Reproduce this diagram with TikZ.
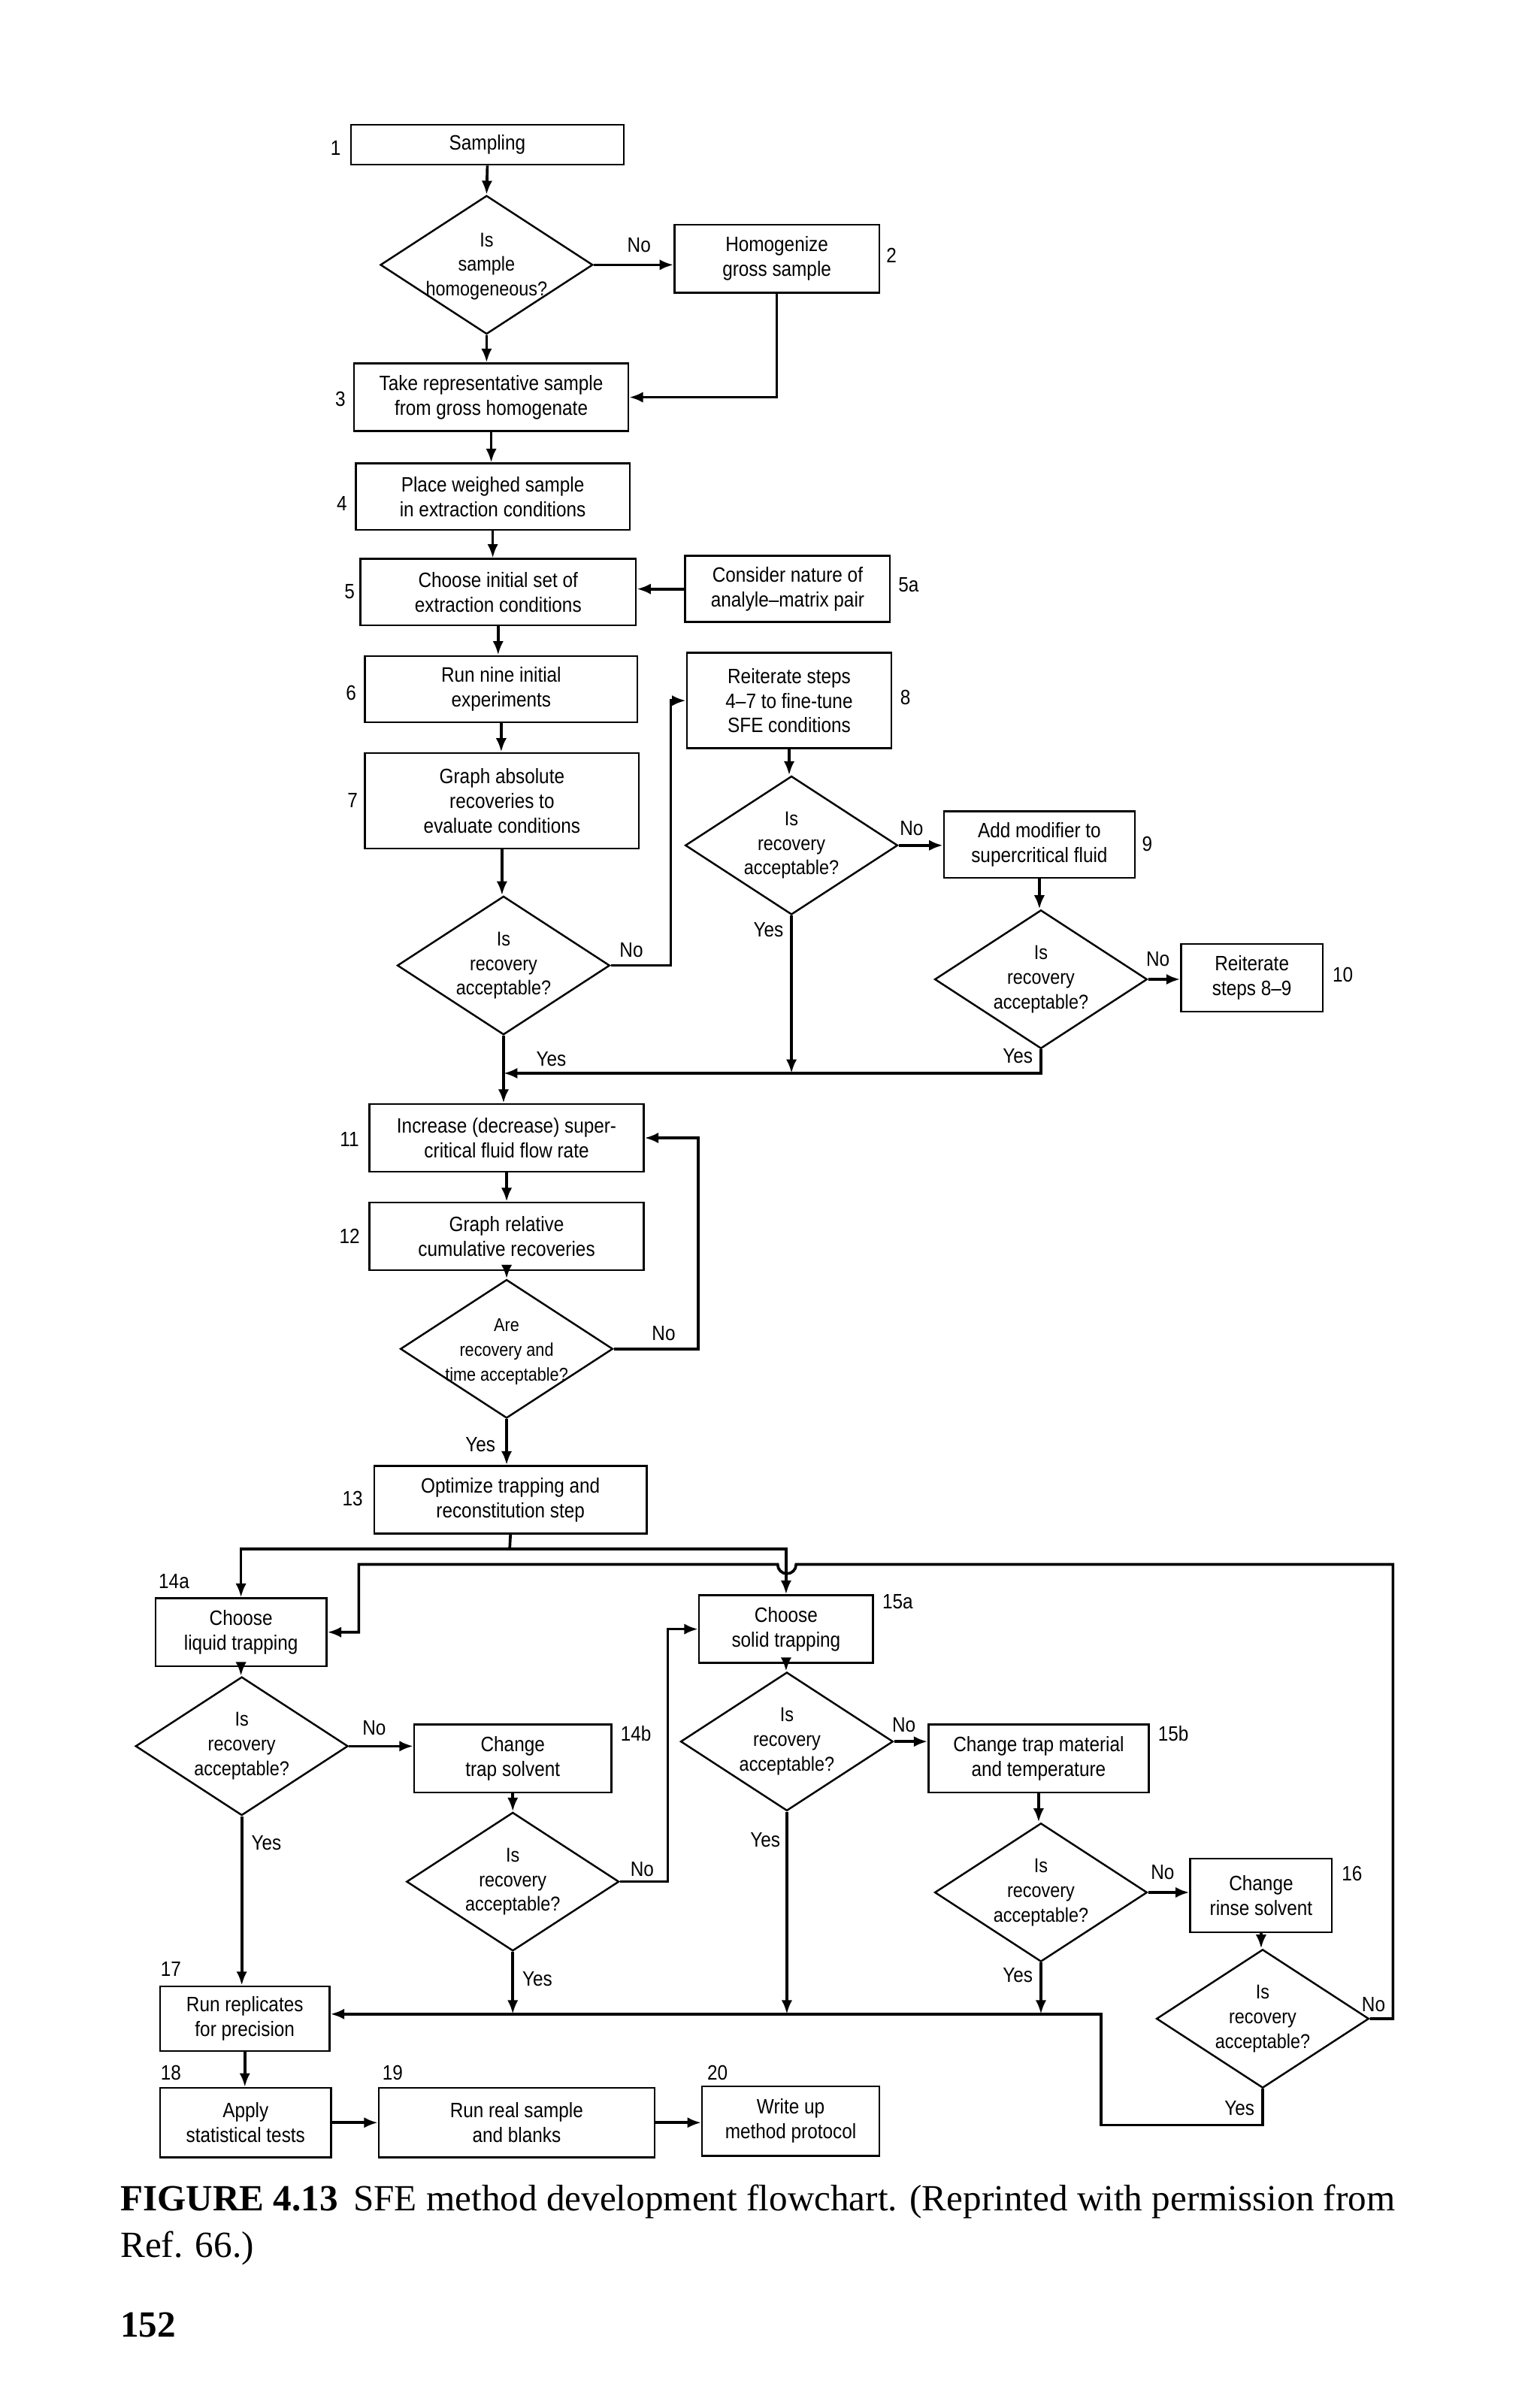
\documentclass[tikz,border=0pt]{standalone}
\usepackage{fontspec}
\setmainfont{Liberation Serif}
\newfontfamily\lsans[FakeStretch=0.88]{Liberation Sans}
\usetikzlibrary{shapes.geometric,arrows.meta}
\begin{document}
\begin{tikzpicture}[x=1pt,y=-1pt,
  every node/.style={font=\lsans\fontsize{13.5}{16}\selectfont},
  box/.style={draw,line width=1.2pt,align=center,inner sep=1pt},
  dia/.style={draw,diamond,line width=1.2pt,inner sep=0pt,minimum width=138pt,minimum height=90pt},
  dt/.style={align=center,font=\lsans\fontsize{13}{16}\selectfont},
  ar/.style={line width=1.8pt,-{Latex[length=9pt,width=7pt]}},
  ln/.style={line width=1.8pt},
  num/.style={inner sep=1pt},
  yn/.style={inner sep=1pt}]
\useasboundingbox (0,0) rectangle (1000,1558);
% boxes
\node[box,minimum width=177,minimum height=26] (b1) at (316.5,94) {Sampling};
\node[box,minimum width=133,minimum height=44] (b2) at (504.5,168) {Homogenize\\gross sample};
\node[box,minimum width=178,minimum height=44] (b3) at (319,258) {Take representative sample\\from gross homogenate};
\node[box,minimum width=178,minimum height=43] (b4) at (320,322.5) {Place weighed sample\\in extraction conditions};
\node[box,minimum width=179,minimum height=43] (b5) at (323.5,384.5) {Choose initial set of\\extraction conditions};
\node[box,minimum width=133,minimum height=43] (b5a) at (511.5,382.5) {Consider nature of\\analyle–matrix pair};
\node[box,minimum width=177,minimum height=43] (b6) at (325.5,447.5) {Run nine initial\\experiments};
\node[box,minimum width=178,minimum height=62] (b7) at (326,520) {Graph absolute\\recoveries to\\evaluate conditions};
\node[box,minimum width=133,minimum height=62] (b8) at (512.5,455) {Reiterate steps\\4–7 to fine-tune\\SFE conditions};
\node[box,minimum width=124,minimum height=43] (b9) at (675,548.5) {Add modifier to\\supercritical fluid};
\node[box,minimum width=92,minimum height=44] (b10) at (813,635) {Reiterate\\steps 8–9};
\node[box,minimum width=178,minimum height=44] (b11) at (329,739) {Increase (decrease) super-\\critical fluid flow rate};
\node[box,minimum width=178,minimum height=44] (b12) at (329,803) {Graph relative\\cumulative recoveries};
\node[box,minimum width=177,minimum height=44] (b13) at (331.5,974) {Optimize trapping and\\reconstitution step};
\node[box,minimum width=111,minimum height=44] (b14a) at (156.5,1060) {Choose\\liquid trapping};
\node[box,minimum width=128,minimum height=44] (b14b) at (333,1142) {Change\\trap solvent};
\node[box,minimum width=113,minimum height=44] (b15a) at (510.5,1058) {Choose\\solid trapping};
\node[box,minimum width=143,minimum height=44] (b15b) at (674.5,1142) {Change trap material\\and temperature};
\node[box,minimum width=92,minimum height=48] (b16) at (819,1231) {Change\\rinse solvent};
\node[box,minimum width=110,minimum height=42] (b17) at (159,1311) {Run replicates\\for precision};
\node[box,minimum width=111,minimum height=45] (b18) at (159.5,1378.5) {Apply\\statistical tests};
\node[box,minimum width=179,minimum height=45] (b19) at (335.5,1378.5) {Run real sample\\and blanks};
\node[box,minimum width=115,minimum height=45] (b20) at (513.5,1377.5) {Write up\\method protocol};
% diamonds
\node[dia,label={[dt,name=t1,yshift=-1pt]center:Is\\sample\\homogeneous?}] (d1) at (316,172) {};
\node[dia,label={[dt,name=t7]center:Is\\recovery\\acceptable?}] (d7) at (327,627) {};
\node[dia,label={[dt,name=t8]center:Is\\recovery\\acceptable?}] (d8) at (514,549) {};
\node[dia,label={[dt,name=t9]center:Is\\recovery\\acceptable?}] (d9) at (676,636) {};
\node[dia,label={[dt,name=t12,yshift=-2pt,font=\lsans\fontsize{12}{16}\selectfont]center:Are\\recovery and\\time acceptable?}] (d12) at (329,876) {};
\node[dia,label={[dt,name=t14]center:Is\\recovery\\acceptable?}] (d14) at (157,1134) {};
\node[dia,label={[dt,name=t14b]center:Is\\recovery\\acceptable?}] (d14b) at (333,1222) {};
\node[dia,label={[dt,name=t15]center:Is\\recovery\\acceptable?}] (d15) at (511,1131) {};
\node[dia,label={[dt,name=t15b]center:Is\\recovery\\acceptable?}] (d15b) at (676,1229) {};
\node[dia,label={[dt,name=t16]center:Is\\recovery\\acceptable?}] (d16) at (820,1311) {};
% numbers
\node[num] (n1) at (218,96) {1};
\node[num] (n2) at (579,166) {2};
\node[num] (n3) at (221,259) {3};
\node[num] (n4) at (222,327) {4};
\node[num] (n5) at (227,384) {5};
\node[num] (n5a) at (590,380) {5a};
\node[num] (n6) at (228,450) {6};
\node[num] (n7) at (229,520) {7};
\node[num] (n8) at (588,453) {8};
\node[num] (n9) at (745,548) {9};
\node[num] (n10) at (872,633) {10};
\node[num] (n11) at (227,740) {11};
\node[num] (n12) at (227,803) {12};
\node[num] (n13) at (229,973) {13};
\node[num] (n14a) at (113,1027) {14a};
\node[num] (n14b) at (413,1126) {14b};
\node[num] (n15a) at (583,1040) {15a};
\node[num] (n15b) at (762,1126) {15b};
\node[num] (n16) at (878,1217) {16};
\node[num] (n17) at (111,1279) {17};
\node[num] (n18) at (111,1346) {18};
\node[num] (n19) at (255,1346) {19};
\node[num] (n20) at (466,1346) {20};
% yes/no
\node[yn] (y1) at (415,159) {No};
\node[yn] (y2) at (410,617) {No};
\node[yn] (y3) at (592,538) {No};
\node[yn] (y4) at (752,623) {No};
\node[yn] (y5) at (499,604) {Yes};
\node[yn] (y6) at (661,686) {Yes};
\node[yn] (y7) at (358,688) {Yes};
\node[yn] (y8) at (431,866) {No};
\node[yn] (y9) at (312,938) {Yes};
\node[yn] (y10) at (243,1122) {No};
\node[yn] (y11) at (417,1214) {No};
\node[yn] (y12) at (587,1120) {No};
\node[yn] (y13) at (755,1216) {No};
\node[yn] (y14) at (892,1302) {No};
\node[yn] (y15) at (805,1369) {Yes};
\node[yn] (y16) at (173,1197) {Yes};
\node[yn] (y17) at (349,1285) {Yes};
\node[yn] (y18) at (497,1195) {Yes};
\node[yn] (y19) at (661,1283) {Yes};
% coordinates
\coordinate (m) at (327,697);
\coordinate (s) at (331,1006);
\coordinate (j) at (715,1308);
% connectors
\draw[ar] (b1.south) -- (d1.north);
\draw[ar] (d1.east) -- (d1.east -| b2.west);
\draw[ar] (d1.south) -- (d1.south |- b3.north);
\draw[ar] (b2.south) |- (b3.east);
\draw[ar] (b3.south) -- (b3.south |- b4.north);
\draw[ar] (b4.south) -- (b4.south |- b5.north);
\draw[ar] (b5a.west) -- (b5a.west -| b5.east);
\draw[ar] (b5.south) -- (b5.south |- b6.north);
\draw[ar] (b6.south) -- (b6.south |- b7.north);
\draw[ar] (b7.south) -- (b7.south |- d7.north);
\draw[ar] (d7.east) -- ++(39,0) |- (b8.west);
\draw[ar] (b8.south) -- (b8.south |- d8.north);
\draw[ar] (d8.east) -- (d8.east -| b9.west);
\draw[ar] (b9.south) -- (b9.south |- d9.north);
\draw[ar] (d9.east) -- (d9.east -| b10.west);
\draw[ar] (d8.south) -- (d8.south |- m);
\draw[ar] (d9.south) |- (m);
\draw[ar] (d7.south) -- (d7.south |- b11.north);
\draw[ar] (b11.south) -- (b12.north);
\draw[ar] (b12.south) -- (d12.north);
\draw[ar] (d12.east) -- ++(55,0) |- (b11.east);
\draw[ar] (d12.south) -- (d12.south |- b13.north);
\draw[ln] (b13.south) -- (s);
\draw[ar] (s) -| (b14a.north);
\draw[ar] (s) -| (b15a.north);
\draw[ar] (d16.east) -- ++(15,0) |- (517,1016) arc (0:180:6) -- (233,1016) |- (b14a.east);
\draw[ar] (b14a.south) -- (b14a.south |- d14.north);
\draw[ar] (d14.east) -- (d14.east -| b14b.west);
\draw[ar] (b14b.south) -- (d14b.north);
\draw[ar] (d14b.east) -- ++(31,0) |- (b15a.west);
\draw[ar] (b15a.south) -- (b15a.south |- d15.north);
\draw[ar] (d15.east) -- (d15.east -| b15b.west);
\draw[ar] (b15b.south) -- (b15b.south |- d15b.north);
\draw[ar] (d15b.east) -- (d15b.east -| b16.west);
\draw[ar] (b16.south) -- (b16.south |- d16.north);
\draw[ar] (d14.south) -- (d14.south |- b17.north);
\draw[ar] (d16.south) -- (820,1380) -| (j) -- (j -| b17.east);
\draw[ar] (d14b.south) -- (d14b.south |- j);
\draw[ar] (d15.south) -- (d15.south |- j);
\draw[ar] (d15b.south) -- (d15b.south |- j);
\draw[ar] (b17.south) -- (b17.south |- b18.north);
\draw[ar] (b18.east) -- (b18.east -| b19.west);
\draw[ar] (b19.east) -- (b19.east -| b20.west);
% caption
\node[anchor=west,inner sep=0,font=\rmfamily\fontsize{24}{30}\selectfont] (cap1) at (78,1430) {\textbf{FIGURE 4.13}\hspace{10pt}SFE method development flowchart. (Reprinted with permission from};
\node[anchor=west,inner sep=0,font=\rmfamily\fontsize{24}{30}\selectfont] (cap2) at (78,1460) {Ref. 66.)};
\node[anchor=west,inner sep=0,font=\rmfamily\bfseries\fontsize{24}{30}\selectfont] (pg) at (78,1510) {152};
\end{tikzpicture}
\end{document}
